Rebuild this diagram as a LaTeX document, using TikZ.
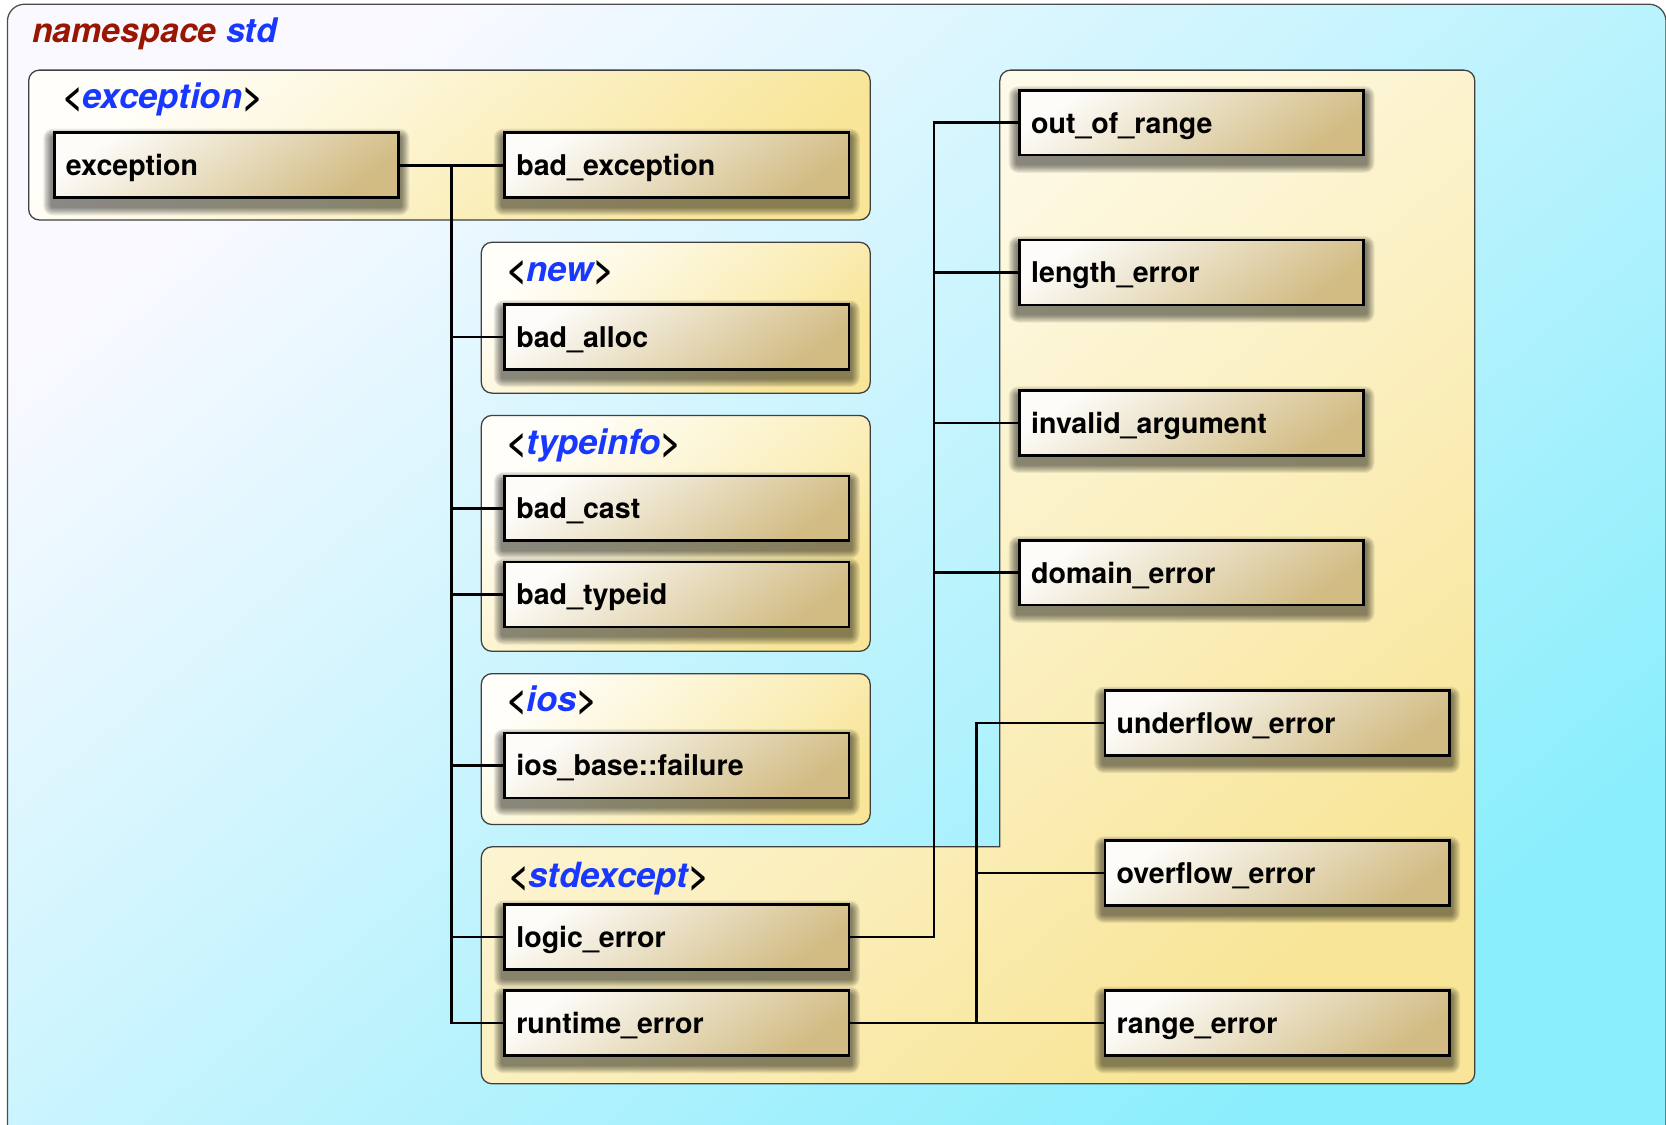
\documentclass[tikz,border=0pt]{standalone}
\usepackage{fontspec}
\setmainfont{TeX Gyre Heros}
\definecolor{outerTL}{HTML}{F9F9FF}
\definecolor{outerMID}{HTML}{C6F4FE}
\definecolor{outerBR}{HTML}{8AEEFC}
\definecolor{grpTL}{HTML}{FFFEF8}
\definecolor{grpMID}{HTML}{FBF0C6}
\definecolor{grpBR}{HTML}{F8E597}
\definecolor{nodeTL}{HTML}{FDFCF9}
\definecolor{nodeMID}{HTML}{EDE4CE}
\definecolor{nodeBR}{HTML}{D2BC84}
\definecolor{nsred}{HTML}{9A1600}
\definecolor{nsblue}{HTML}{1838FF}
\pgfdeclarelayer{bglayer}
\pgfdeclarelayer{grplayer}
\pgfdeclarelayer{shdlayer}
\pgfsetlayers{bglayer,grplayer,shdlayer,main}
\begin{document}
\begin{tikzpicture}[x=0.5bp,y=-0.5bp,
  cls/.style={draw=black, line width=1.25bp,
    top color=nodeTL, middle color=nodeMID, bottom color=nodeBR, shading angle=35,
    minimum height=30.5bp, text width=151bp, inner xsep=5.5bp, inner ysep=0pt, align=left,
    text height=10bp, text depth=0.3bp,
    font=\bfseries\fontsize{13.5}{15}\selectfont},
  grp/.style={draw=black!75, line width=0.6bp, top color=grpTL, middle color=grpMID, bottom color=grpBR, shading angle=40},
  hdr/.style={anchor=base west, inner sep=0pt, font=\bfseries\itshape\fontsize{16.4}{19}\selectfont},
  shd/.style={fill=black, opacity=0.07},
  link/.style={draw=black, line width=1.2bp}]
\useasboundingbox (0,0) rectangle (1568,1058);
% outer namespace box
\begin{pgfonlayer}{bglayer}
\path[draw=black!70, line width=0.6bp, rounded corners=8bp, top color=outerTL, middle color=outerMID, bottom color=outerBR, shading angle=40]
  (7,4) rectangle (1568,1080);
\end{pgfonlayer}
\node[hdr, font=\bfseries\itshape\fontsize{16}{19}\selectfont] (hns) at (30,40) {\textcolor{nsred}{namespace} \textcolor{nsblue}{std}};
% groups
\begin{pgfonlayer}{grplayer}
\path[grp, rounded corners=5bp] (27,66) rectangle (819,207);
\path[grp, rounded corners=5bp] (453,228) rectangle (819,370);
\path[grp, rounded corners=5bp] (453,391) rectangle (819,613);
\path[grp, rounded corners=5bp] (453,634) rectangle (819,776);
\path[grp] (941,797) [rounded corners=5bp] -- (941,66) -- (1388,66) -- (1388,1020) -- (453,1020) -- (453,797) [sharp corners] -- cycle;
\end{pgfonlayer}
% headers
\node[hdr] (hexc) at (58,102) {<\textcolor{nsblue}{exception}>};
\node[hdr] (hnew) at (476,265) {<\textcolor{nsblue}{new}>};
\node[hdr] (htype) at (476,428) {<\textcolor{nsblue}{typeinfo}>};
\node[hdr] (hios) at (476,670) {<\textcolor{nsblue}{ios}>};
\node[hdr] (hstd) at (478,835) {<\textcolor{nsblue}{stdexcept}>};
% class nodes
\node[cls] (exc) at (213,155.5) {exception};
\node[cls] (bexc) at (637,155.5) {bad\_exception};
\node[cls] (balloc) at (637,317) {bad\_alloc};
\node[cls] (bcast) at (637,478.5) {bad\_cast};
\node[cls] (btid) at (637,559.5) {bad\_typeid};
\node[cls] (iosf) at (637,720.5) {ios\_base::failure};
\node[cls] (logic) at (637,882) {logic\_error};
\node[cls] (rt) at (637,963) {runtime\_error};
\node[cls] (oor) at (1121.5,115.5) {out\_of\_range};
\node[cls] (len) at (1121.5,256.5) {length\_error};
\node[cls] (inv) at (1121.5,398) {invalid\_argument};
\node[cls] (dom) at (1121.5,539) {domain\_error};
\node[cls] (under) at (1202,680.5) {underflow\_error};
\node[cls] (over) at (1202,821.5) {overflow\_error};
\node[cls] (range) at (1202,963) {range\_error};
% soft shadows
\begin{pgfonlayer}{shdlayer}
\foreach \n in {exc,bexc,balloc,bcast,btid,iosf,logic,rt,oor,len,inv,dom,under,over,range}{
  \foreach \k in {0,...,7}{
    \pgfmathsetmacro{\e}{4.5-0.5*\k}
    \fill[shd, rounded corners=\e bp] ([xshift=-\e bp, yshift=-3.2bp-\e bp]\n.south west) rectangle ([xshift=\e bp, yshift=-3.2bp+\e bp]\n.north east);
  }
}
\end{pgfonlayer}
% connectors
\coordinate (bA) at (425,155.5);
\coordinate (bB) at (879,115.5);
\coordinate (bC) at (919,680.5);
\draw[link] (exc.east) -- (bexc.west);
\draw[link] (bA) |- (balloc.west);
\draw[link] (bA) |- (bcast.west);
\draw[link] (bA) |- (btid.west);
\draw[link] (bA) |- (iosf.west);
\draw[link] (bA) |- (logic.west);
\draw[link] (bA) |- (rt.west);
\draw[link] (logic.east) -| (bB) -- (oor.west);
\draw[link] (bB) |- (len.west);
\draw[link] (bB) |- (inv.west);
\draw[link] (bB) |- (dom.west);
\draw[link] (rt.east) -- (range.west);
\draw[link] (rt.east) -| (bC) -- (under.west);
\draw[link] (bC) |- (over.west);
\end{tikzpicture}
\end{document}
